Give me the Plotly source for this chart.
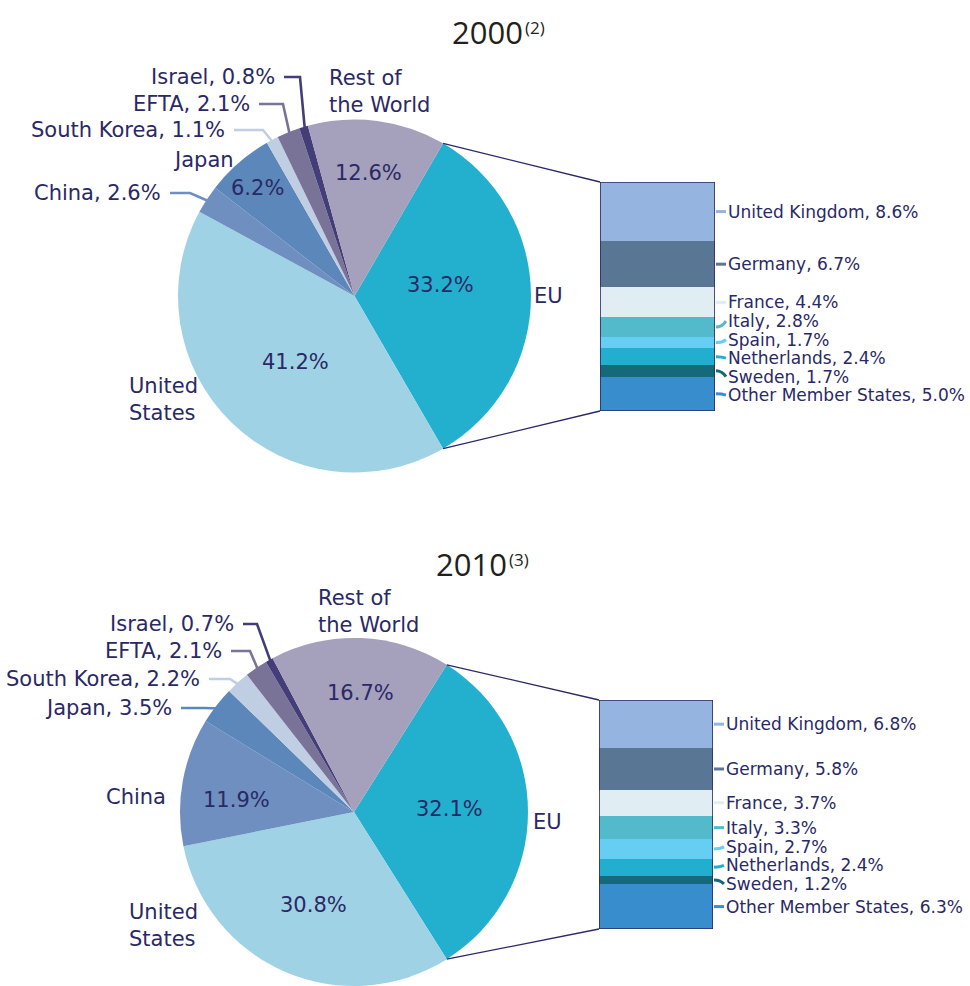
import math
import plotly.graph_objects as go

W, H = 970, 986
INK = "#2A2965"
FONT = "DejaVu Sans"

# ---------------- data ----------------
regions = ["EU", "United States", "China", "Japan", "South Korea", "EFTA", "Israel", "Rest of the World"]
share_2000 = [33.2, 41.2, 2.6, 6.2, 1.1, 2.1, 0.8, 12.6]
share_2010 = [32.1, 30.8, 11.9, 3.5, 2.2, 2.1, 0.7, 16.7]
region_colors = ["#23AFCE", "#A0D2E5", "#6E8FC0", "#5B87BA", "#C0CEE4", "#7A7398", "#433E78", "#A5A0BB"]

members = ["United Kingdom", "Germany", "France", "Italy", "Spain", "Netherlands", "Sweden", "Other Member States"]
eu_2000 = [8.6, 6.7, 4.4, 2.8, 1.7, 2.4, 1.7, 5.0]
eu_2010 = [6.8, 5.8, 3.7, 3.3, 2.7, 2.4, 1.2, 6.3]
member_colors = ["#95B5E0", "#5A7695", "#E0EEF4", "#52BACB", "#66CEF2", "#22AECE", "#156979", "#388ECD"]

years = ["2000", "2010"]
notes = ["(2)", "(3)"]


def fx(x):
    return x / W


def fy(y):
    return 1 - y / H


def pth(points):
    s = "M %.5f,%.5f" % (fx(points[0][0]), fy(points[0][1]))
    for p in points[1:]:
        s += " L %.5f,%.5f" % (fx(p[0]), fy(p[1]))
    return s


def spread(centers, gap):
    groups = [[c] for c in centers]
    while True:
        merged = False
        out = [groups[0]]
        for g in groups[1:]:
            prev = out[-1]
            pm = sum(prev) / len(prev)
            pbot = pm + (len(prev) - 1) * gap / 2
            gm = sum(g) / len(g)
            gtop = gm - (len(g) - 1) * gap / 2
            if gtop - pbot < gap - 1e-9:
                out[-1] = prev + g
                merged = True
            else:
                out.append(g)
        groups = out
        if not merged:
            break
    pos = []
    for g in groups:
        m = sum(g) / len(g)
        for k in range(len(g)):
            pos.append(m - (len(g) - 1) * gap / 2 + k * gap)
    return pos


# layout geometry (pixels)
panels = [
    dict(shares=share_2000, eu=eu_2000, cx=354.5, cy=296, r=176.5, bar=(600, 715, 182, 411),
         title=(525, 32, 523, 27), xa="x", ya="y",
         leaders=[(6, "Israel, 0.8%", 277, 77, 300), (5, "EFTA, 2.1%", 252, 104, 283),
                  (4, "South Korea, 1.1%", 227, 130, 263), (2, "China, 2.6%", 163, 193, 190)],
         texts=[("Japan", 203, 160, "center"), ("Rest of<br>the World", 327, 91, "left"),
                ("United<br>States", 127, 399, "left"), ("EU", 548, 296, "center"),
                ("12.6%", 368, 173, "center"), ("6.2%", 257, 188, "center"),
                ("33.2%", 440, 285, "center"), ("41.2%", 295, 362, "center")]),
    dict(shares=share_2010, eu=eu_2010, cx=354, cy=812, r=174, bar=(599, 713, 700, 929),
         title=(509, 564, 507, 559), xa="x2", ya="y2",
         leaders=[(6, "Israel, 0.7%", 236, 624, 257), (5, "EFTA, 2.1%", 224, 651, 250),
                  (4, "South Korea, 2.2%", 202, 679, 230), (3, "Japan, 3.5%", 174, 708, 205)],
         texts=[("China", 136, 797, "center"), ("Rest of<br>the World", 316, 611, "left"),
                ("United<br>States", 127, 925, "left"), ("EU", 547, 822, "center"),
                ("16.7%", 360, 693, "center"), ("11.9%", 236, 800, "center"),
                ("32.1%", 449, 809, "center"), ("30.8%", 313, 905, "center")]),
]

fig = go.Figure()
shapes, annotations = [], []
layout_axes = {}

for k, p in enumerate(panels):
    shares = p["shares"]
    total = sum(shares)
    cx, cy, r = p["cx"], p["cy"], p["r"]
    rot = 90 - 180 * shares[0] / total
    fig.add_trace(go.Pie(
        values=shares, labels=regions, sort=False, direction="clockwise", rotation=rot,
        marker=dict(colors=region_colors, line=dict(width=0)), textinfo="none",
        hoverinfo="label+value", showlegend=False,
        domain=dict(x=[fx(cx - r), fx(cx + r)], y=[max(0.0, fy(cy + r)), fy(cy - r)]),
    ))

    starts, mids = [], []
    cum = 0
    for v in shares:
        a0 = rot + 360 * cum / total
        starts.append(a0)
        mids.append(a0 + 180 * v / total)
        cum += v

    def edge(a, f=1.0):
        t = math.radians(a)
        return (cx + f * r * math.sin(t), cy - f * r * math.cos(t))

    for (i, txt, xr, ly, elbow) in p["leaders"]:
        ex, ey = edge(mids[i], 0.97)
        shapes.append(dict(type="path", xref="paper", yref="paper",
                           path=pth([(xr + 7, ly), (elbow, ly), (ex, ey)]),
                           line=dict(color=region_colors[i], width=2.6)))
        annotations.append(dict(x=fx(xr), y=fy(ly), xref="paper", yref="paper", text=txt,
                                showarrow=False, xanchor="right", yanchor="middle",
                                font=dict(family=FONT, size=21, color=INK)))
    for (txt, x, y, anc) in p["texts"]:
        annotations.append(dict(x=fx(x), y=fy(y), xref="paper", yref="paper", text=txt,
                                showarrow=False, xanchor=anc, yanchor="middle", align="left",
                                font=dict(family=FONT, size=21, color=INK)))

    # title: year plus a small note mark
    tx, ty, sx, sy = p["title"]
    annotations.append(dict(x=fx(tx), y=fy(ty), xref="paper", yref="paper", text=years[k],
                            showarrow=False, xanchor="right", yanchor="middle",
                            font=dict(family="Open Sans", size=31, color="#231F20")))
    annotations.append(dict(x=fx(sx), y=fy(sy), xref="paper", yref="paper", text=notes[k],
                            showarrow=False, xanchor="left", yanchor="middle",
                            font=dict(family="Open Sans", size=17, color="#231F20")))

    # EU breakdown bar
    eu = p["eu"]
    etot = sum(eu)
    x0, x1, y0, y1 = p["bar"]
    xa, ya = p["xa"], p["ya"]
    for m, v, c in zip(members, eu, member_colors):
        fig.add_trace(go.Bar(x=[0], y=[v], width=1, name=m, marker=dict(color=c, line=dict(width=0)),
                             xaxis=xa, yaxis=ya, showlegend=False, hoverinfo="name+y"))
    axn = "" if k == 0 else "2"
    layout_axes["xaxis" + axn] = dict(domain=[fx(x0), fx(x1)], range=[-0.5, 0.5], visible=False,
                                      anchor=ya, fixedrange=True)
    layout_axes["yaxis" + axn] = dict(domain=[fy(y1), fy(y0)], range=[etot, 0], visible=False,
                                      anchor=xa, fixedrange=True)
    shapes.append(dict(type="rect", xref=xa, yref=ya, x0=-0.5, x1=0.5, y0=0, y1=etot,
                       line=dict(color=INK, width=1.6), layer="above"))

    up = edge(starts[0])
    lo = edge(starts[0] + 360 * shares[0] / total)
    shapes.append(dict(type="path", xref="paper", yref="paper", path=pth([up, (x0, y0)]),
                       line=dict(color=INK, width=1.3)))
    shapes.append(dict(type="path", xref="paper", yref="paper", path=pth([lo, (x0, y1)]),
                       line=dict(color=INK, width=1.3)))

    centers = []
    c = 0
    for v in eu:
        centers.append(y0 + (c + v / 2) / etot * (y1 - y0))
        c += v
    labs = spread(centers, 18.5)
    for m, v, col, cy_, ly in zip(members, eu, member_colors, centers, labs):
        path = "M %.5f,%.5f Q %.5f,%.5f %.5f,%.5f" % (fx(x1 + 1), fy(cy_), fx(x1 + 7), fy(cy_),
                                                       fx(x1 + 11), fy(ly))
        shapes.append(dict(type="path", xref="paper", yref="paper", path=path,
                           line=dict(color=col, width=3)))
        annotations.append(dict(x=fx(x1 + 12), y=fy(ly), xref="paper", yref="paper",
                                text="%s, %.1f%%" % (m, v), showarrow=False, xanchor="left",
                                yanchor="middle", borderpad=0,
                                font=dict(family=FONT, size=17, color=INK)))

fig.update_layout(
    width=W, height=H, margin=dict(l=0, r=0, t=0, b=0),
    paper_bgcolor="white", plot_bgcolor="white",
    barmode="stack", bargap=0,
    shapes=shapes, annotations=annotations, **layout_axes,
)

# remove the page's default body margin so the figure sits at the window's top-left corner
fig.write_html("out.html", config={"displayModeBar": False},
               post_script="document.body.style.margin='0';")
